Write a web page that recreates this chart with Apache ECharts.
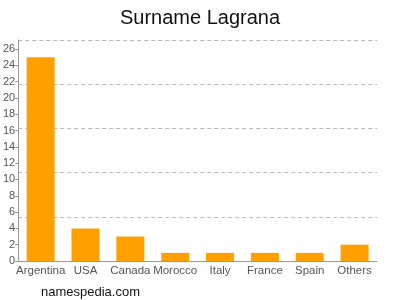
<!DOCTYPE html>
<html><head><meta charset="utf-8">
<script src="https://cdn.jsdelivr.net/npm/echarts@6/dist/echarts.min.js"></script>
<style>html,body{margin:0;padding:0;background:#fff}#c{width:400px;height:300px}</style>
</head><body><div id="c"></div>
<script>
var categories = ['Argentina','USA','Canada','Morocco','Italy','France','Spain','Others'];
var values = [25, 4, 3, 1, 1, 1, 1, 2];
var yTicks = [0,2,4,6,8,10,12,14,16,18,20,22,24,26];
var chart = echarts.init(document.getElementById('c'), null, {renderer:'canvas'});
chart.setOption({
  animation:false,
  title:[{text:'Surname Lagrana', left:'center', top:3, textStyle:{fontFamily:'Liberation Sans', fontSize:20, fontWeight:'normal', color:'#111'}},
         {text:'namespedia.com', left:36, top:281, textStyle:{fontFamily:'Liberation Sans', fontSize:13, fontWeight:'normal', color:'#111'}}],
  grid:{left:17, right:23, top:40, bottom:39, containLabel:false},
  xAxis:{type:'category', data:categories,
    axisLine:{lineStyle:{color:'#999'}},
    axisTick:{alignWithLabel:true, length:4, lineStyle:{color:'#999'}},
    axisLabel:{fontFamily:'Liberation Sans', fontSize:11.5, color:'#555', margin:4, interval:0}},
  yAxis:[{type:'value', min:0, max:27.1,
    axisLine:{show:true, lineStyle:{color:'#999'}},
    axisTick:{show:true, length:3, customValues:yTicks, lineStyle:{color:'#999'}},
    axisLabel:{fontFamily:'Liberation Sans', fontSize:11, color:'#555', margin:3, customValues:yTicks},
    splitLine:{show:false}},
    {type:'value', min:0, max:5, interval:1, position:'right',
    axisLine:{show:false}, axisTick:{show:false}, axisLabel:{show:false},
    splitLine:{show:true, lineStyle:{color:'#bbb', type:[4,3], width:1}}}],
  series:[{type:'bar', data:values, barWidth:28, yAxisIndex:0,
    itemStyle:{color:'#ffa000'}}]
});
</script></body></html>
